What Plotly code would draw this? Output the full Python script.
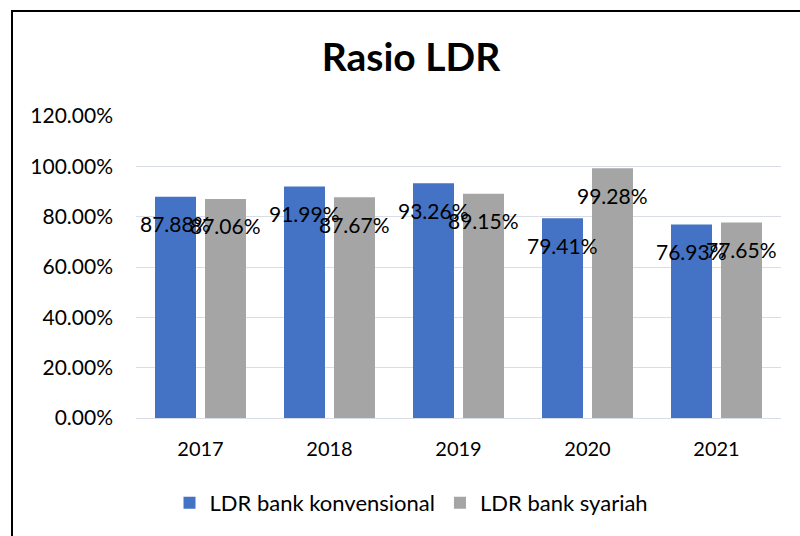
import plotly.graph_objects as go

years = ["2017", "2018", "2019", "2020", "2021"]
konvensional = [87.88, 91.99, 93.26, 79.41, 76.93]
syariah = [87.06, 87.67, 89.15, 99.28, 77.65]
series_names = ["LDR bank konvensional", "LDR bank syariah"]
tick_vals = [0, 20, 40, 60, 80, 100, 120]
tick_text = [f"{v:.2f}%" for v in tick_vals]

FONT = "Lato"
W, H = 800, 536
L, R, T, B = 136, 19, 116, 118
pw, ph = W - L - R, H - T - B

fig = go.Figure()
fig.add_trace(go.Bar(x=years, y=konvensional, name=series_names[0],
                     marker=dict(color="#4472C4", line=dict(width=0))))
fig.add_trace(go.Bar(x=years, y=syariah, name=series_names[1],
                     marker=dict(color="#A5A5A5", line=dict(width=0))))

# data labels (x given as category index)
for vals, dx in ((konvensional, -25), (syariah, 25)):
    for i, v in enumerate(vals):
        fig.add_annotation(x=i, y=v, xshift=dx, yshift=-27, showarrow=False,
                           text=f"{v:.2f}%", font=dict(family=FONT, size=21, color="#000000"))

# chart border (left and top edges visible)
bx = (12 - L) / pw
by = 1 + (T - 11) / ph
fig.add_shape(type="rect", xref="paper", yref="paper", x0=bx, x1=1.5, y0=-1, y1=by,
              line=dict(color="#000000", width=2), fillcolor="rgba(0,0,0,0)", layer="above")

fig.update_layout(
    width=W, height=H,
    margin=dict(l=L, r=R, t=T, b=B, pad=0),
    paper_bgcolor="white", plot_bgcolor="white",
    barmode="group", bargap=0.225, bargroupgap=0.18,
    title=dict(text="<b>Rasio LDR</b>", x=411 / W, xref="container", xanchor="center",
               y=1 - 57 / H, yref="container", yanchor="middle",
               font=dict(family=FONT, size=39, color="#000000")),
    font=dict(family=FONT, color="#000000"),
    xaxis=dict(type="category", range=[-0.5, len(years) - 0.5], showgrid=False, showline=False,
               ticks="", tickfont=dict(size=20, color="#000000"), ticklabelstandoff=17),
    yaxis=dict(range=[0, 120], tickvals=tick_vals, ticktext=tick_text,
               showgrid=True, gridcolor="#D9DDE5", gridwidth=1, zeroline=True,
               zerolinecolor="#D9DDE5", zerolinewidth=1, showline=False, ticks="",
               tickfont=dict(size=21, color="#000000"), ticklabelstandoff=22),
    legend=dict(orientation="h", xref="container", yref="container", x=411.5 / W, xanchor="center",
                y=1 - 503 / H, yanchor="middle", font=dict(size=22, color="#000000"),
                itemwidth=30, traceorder="normal"),
    showlegend=True,
)

fig.write_html("out.html")
